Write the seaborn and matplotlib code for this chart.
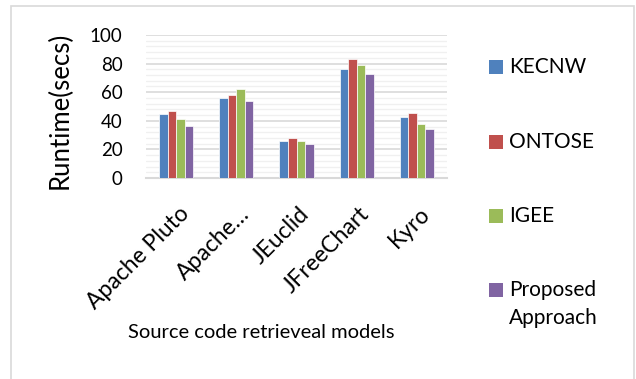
import matplotlib
matplotlib.use("Agg")
import matplotlib.pyplot as plt
from matplotlib.patches import Rectangle
from matplotlib.ticker import MultipleLocator
from matplotlib.transforms import ScaledTranslation
import seaborn as sns
import pandas as pd

# Runtime per project for each retrieval model
projects = ["Apache Pluto", "Apache…", "JEuclid", "JFreeChart", "Kyro"]
models = ["KECNW", "ONTOSE", "IGEE", "Proposed\nApproach"]
kecnw = [45, 56, 26, 76, 42.5]
ontose = [47, 58, 28, 83, 45.5]
igee = [41, 62, 26, 79, 37.5]
proposed = [36.5, 54, 23.5, 72.5, 34.5]

colors = ["#4F81BD", "#C0504D", "#9BBB59", "#8064A2"]

rows = []
for model, vals in zip(models, [kecnw, ontose, igee, proposed]):
    for proj, v in zip(projects, vals):
        rows.append({"project": proj, "model": model, "runtime": v})
df = pd.DataFrame(rows)

sns.set_theme(style="white")
plt.rcParams["font.family"] = ["Lato", "DejaVu Sans"]
FS_TICK = 13.5
FS_CAT = 16.5
FS_LEG = 15
FS_XLAB = 14.5
FS_YLAB = 18.5

W, H = 636, 379
fig = plt.figure(figsize=(W / 100, H / 100), dpi=100)
ax = fig.add_axes([146 / W, 1 - 178 / H, 301 / W, 143 / H])

sns.barplot(data=df, x="project", y="runtime", hue="model",
            hue_order=models, order=projects, palette=colors,
            width=0.57, gap=0, saturation=1, edgecolor="#FFFFFF",
            linewidth=0.5, legend=False, ax=ax, zorder=3)

ax.set_ylim(0, 100)
ax.yaxis.set_major_locator(MultipleLocator(20))
ax.yaxis.set_minor_locator(MultipleLocator(4))
ax.grid(which="minor", axis="y", color="#F0F0F0", linewidth=1.0, zorder=0)
ax.grid(which="major", axis="y", color="#D9D9D9", linewidth=1.2, zorder=1)
ax.set_axisbelow(True)
for side in ["top", "right", "left"]:
    ax.spines[side].set_visible(False)
ax.spines["bottom"].set_color("#D9D9D9")
ax.spines["bottom"].set_linewidth(1.5)

ax.tick_params(axis="y", which="both", length=0, pad=17, labelsize=FS_TICK, colors="#000000")
ax.tick_params(axis="x", length=0, pad=18, labelsize=FS_CAT, colors="#000000")
ax.set_yticks([0, 20, 40, 60, 80, 100])
ax.set_xticks(range(len(projects)))
ax.set_xticklabels(projects, rotation=45, ha="right", va="top", rotation_mode="anchor")
shift = ScaledTranslation(2 / 100, 0, fig.dpi_scale_trans)
for lbl in ax.get_xticklabels():
    lbl.set_transform(lbl.get_transform() + shift)
ax.set_xlabel("")
ax.set_ylabel("Runtime(secs)", fontsize=FS_YLAB, color="#000000")
ax.yaxis.set_label_coords((73 - 146) / 301, 0.47)

fig.text(261 / W, 1 - 332 / H, "Source code retrieveal models",
         ha="center", va="center", fontsize=FS_XLAB, color="#000000")

# legend on the right
leg_y = [67, 142, 216, 290]
for name, col, y in zip(models, colors, leg_y):
    fig.add_artist(Rectangle((489 / W, 1 - (y + 7) / H), 14 / W, 14 / H,
                             transform=fig.transFigure, facecolor=col,
                             edgecolor="none"))
    for i, line in enumerate(name.split("\n")):
        fig.text(509 / W, 1 - (y + 28 * i) / H, line, ha="left", va="center",
                 fontsize=FS_LEG, color="#000000")

# chart frame
fig.add_artist(Rectangle((11 / W, -0.02), (634 - 11) / W, 1 - 6 / H + 0.02,
                         transform=fig.transFigure, facecolor="none",
                         edgecolor="#D9D9D9", linewidth=1.2))

fig.savefig("out.png", dpi=100)
